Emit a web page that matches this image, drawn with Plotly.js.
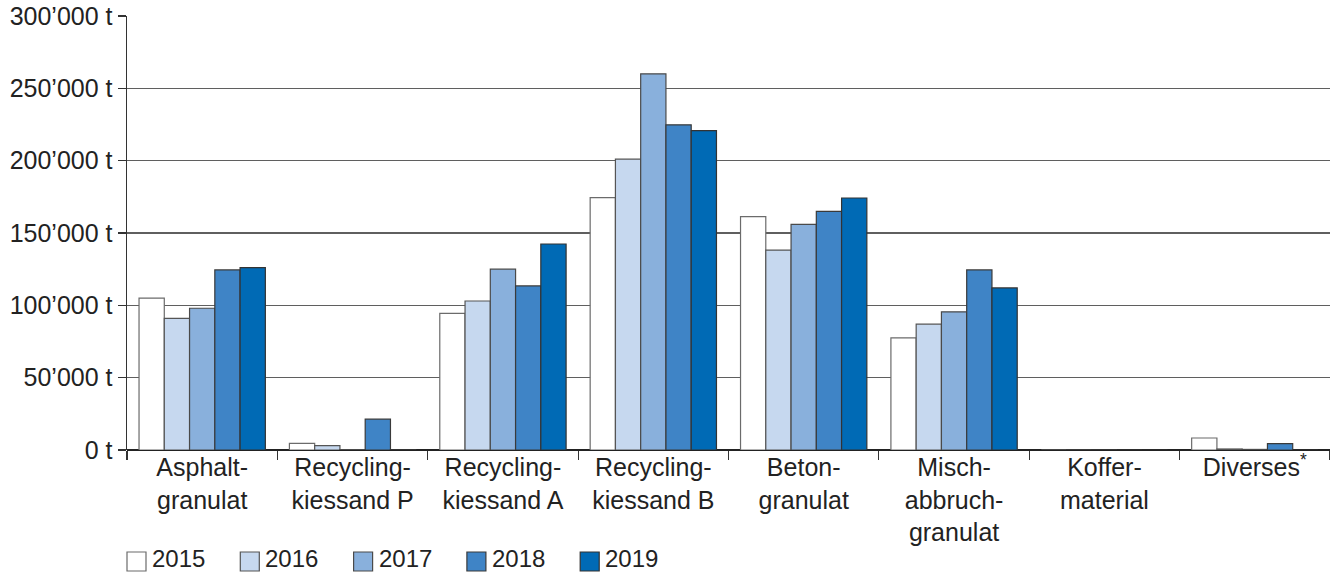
<!DOCTYPE html>
<html>
<head>
<meta charset="utf-8">
<script src="https://cdn.plot.ly/plotly-3.0.1.min.js"></script>
<style>
html,body{margin:0;padding:0;background:#fff;}
#chart{width:1330px;height:573px;}
</style>
</head>
<body>
<div id="chart"></div>
<script>
const categories = ["Asphalt-<br>granulat", "Recycling-<br>kiessand P", "Recycling-<br>kiessand A", "Recycling-<br>kiessand B", "Beton-<br>granulat", "Misch-<br>abbruch-<br>granulat", "Koffer-<br>material", "Diverses<sup>*</sup>"];
const years = ["2015", "2016", "2017", "2018", "2019"];
const values2015 = [105000, 4600, 94500, 174500, 161300, 77500, 0, 8300];
const values2016 = [91000, 3000, 103000, 201000, 138200, 87000, 0, 700];
const values2017 = [98000, 300, 125000, 260000, 156000, 95500, 0, 400];
const values2018 = [124500, 21300, 113400, 224800, 165000, 124500, 0, 4400];
const values2019 = [126000, 300, 142400, 220800, 174200, 112000, 0, 0];
const seriesValues = [values2015, values2016, values2017, values2018, values2019];
const colors = ["#ffffff", "#c6d8ef", "#89b0dc", "#3f84c6", "#006ab5"];
const lineColors = ["#6b6b6b", "#555555", "#4a4a4a", "#3a3a3a", "#333333"];
const yTickVals = [0, 50000, 100000, 150000, 200000, 250000, 300000];
const yTickText = ["0 t", "50’000 t", "100’000 t", "150’000 t", "200’000 t", "250’000 t", "300’000 t"];

const FONT = "Liberation Sans, Arial, sans-serif";
const traces = years.map((yr, i) => ({
  type: "bar",
  name: yr,
  x: categories,
  y: seriesValues[i],
  marker: {color: colors[i], line: {color: lineColors[i], width: 1.2}},
  hoverinfo: "skip",
  showlegend: false
}));

// custom legend (boxes + labels), positioned in pixels relative to plot area
const L = 127, R = 0, T = 16, B = 123, W = 1330, H = 573;
const pw = W - L - R, ph = H - T - B;
const px = p => (p - L) / pw;
const py = p => (H - B - p) / ph;
const shapes = [];
const annotations = [];
years.forEach((yr, i) => {
  const x0 = 127 + i * 113.3;
  shapes.push({type: "rect", xref: "paper", yref: "paper",
    x0: px(x0), x1: px(x0 + 19), y0: py(571), y1: py(552),
    fillcolor: colors[i], line: {color: lineColors[i], width: 1.2}});
  annotations.push({xref: "paper", yref: "paper", x: px(x0 + 24), y: py(573),
    xanchor: "left", yanchor: "bottom", showarrow: false, text: yr,
    borderpad: 0,
    font: {family: FONT, size: 24, color: "#222"}});
});

const layout = {
  width: W, height: H,
  margin: {l: L, r: R, t: T, b: B, pad: 0},
  paper_bgcolor: "#fff", plot_bgcolor: "#fff",
  barmode: "group", bargap: 0.16, bargroupgap: 0,
  font: {family: FONT, size: 25, color: "#222"},
  xaxis: {
    type: "category",
    tickson: "boundaries",
    ticks: "outside", ticklen: 9, tickwidth: 1.2, tickcolor: "#333",
    showline: false, showgrid: false, zeroline: false,
    tickfont: {family: FONT, size: 25, color: "#222"},
    automargin: false, fixedrange: true
  },
  yaxis: {
    range: [0, 300000],
    tickvals: yTickVals, ticktext: yTickText,
    ticks: "outside", ticklen: 8, tickwidth: 1.2, tickcolor: "#333",
    showline: true, linecolor: "#333", linewidth: 1.5,
    showgrid: true, gridcolor: "#5f5f5f", gridwidth: 1.3,
    zeroline: true, zerolinecolor: "#222", zerolinewidth: 2,
    tickfont: {family: FONT, size: 25, color: "#222"},
    automargin: false, fixedrange: true
  },
  shapes: shapes,
  annotations: annotations,
  showlegend: false
};

Plotly.newPlot("chart", traces, layout, {displayModeBar: false, staticPlot: true});
</script>
</body>
</html>
